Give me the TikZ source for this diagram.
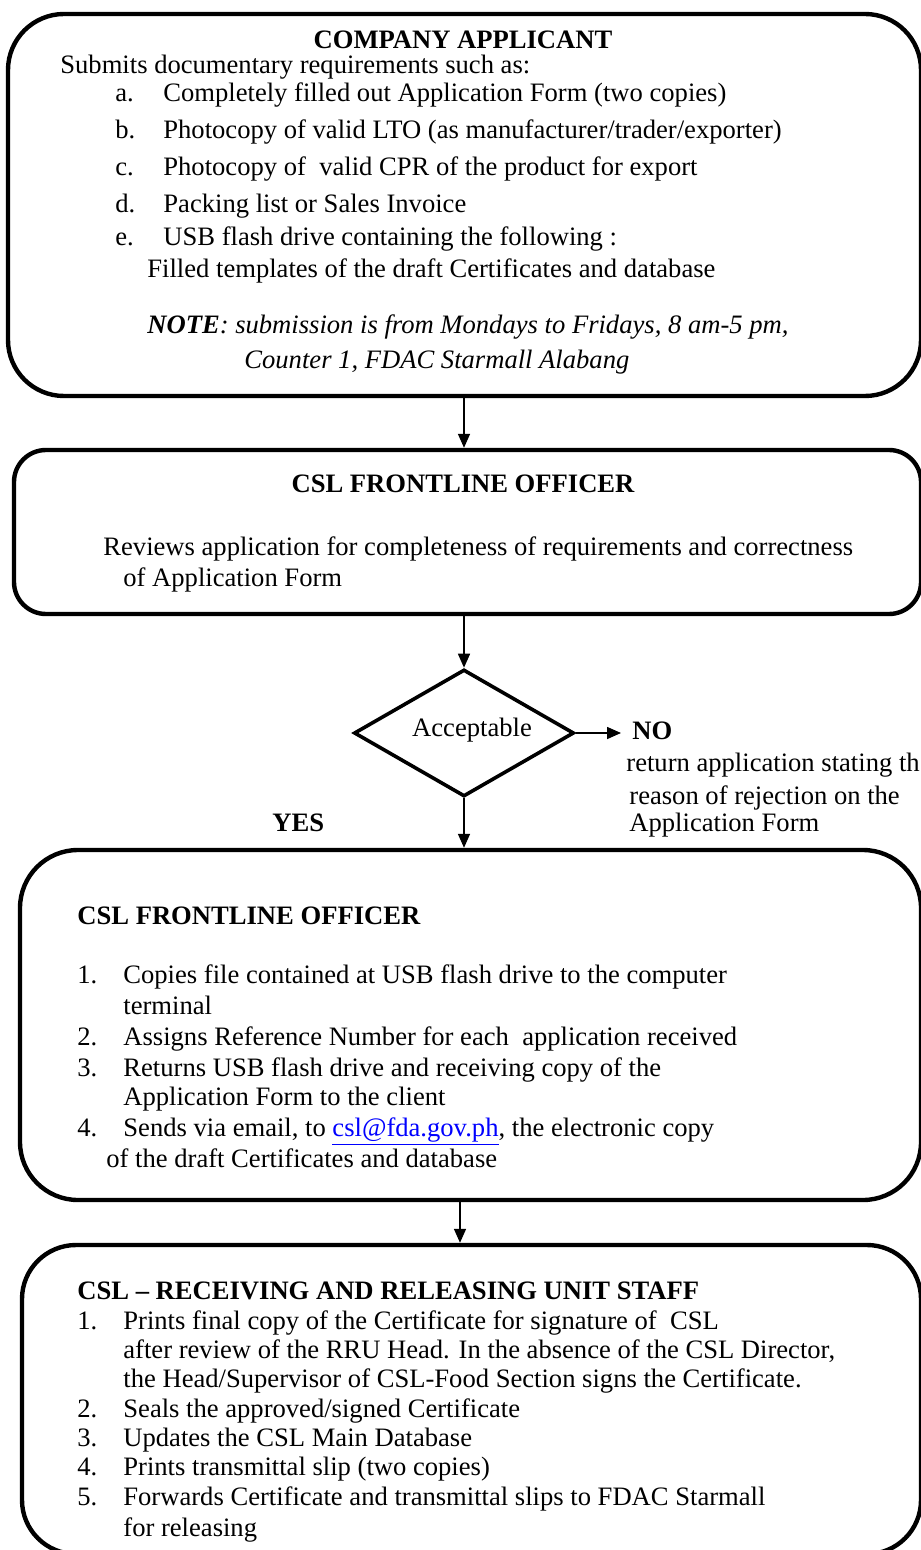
\documentclass[tikz,border=0pt]{standalone}
\usepackage{fontspec}
\setmainfont{Liberation Serif}
\usetikzlibrary{arrows.meta,shapes.geometric}
\definecolor{linkblue}{RGB}{0,0,255}
\begin{document}
\begin{tikzpicture}[x=0.5pt,y=-0.5pt,
  box/.style={draw,line width=2.2pt,rounded corners=#1,inner sep=0pt},
  txt/.style={anchor=base west,inner sep=0pt,font=\fontsize{13.3}{16}\selectfont},
  ttl/.style={anchor=base west,inner sep=0pt,font=\fontsize{13.3}{16}\selectfont\bfseries},
  ctitle/.style={anchor=base,inner sep=0pt,font=\fontsize{13.3}{16}\selectfont\bfseries},
  flow/.style={line width=0.8pt,-{Triangle[length=7pt,width=6pt]}},
  dec/.style={draw,diamond,line width=1.8pt,inner sep=0pt,minimum width=110pt,minimum height=63.5pt}
]
\useasboundingbox (0,0) rectangle (920,1550);

% ---------- boxes ----------
\node[box=28pt,minimum width=456.5pt,minimum height=191pt] (b1) at (464.5,205) {};
\node[box=16pt,minimum width=453.5pt,minimum height=82pt] (b2) at (467.5,532) {};
\node[dec] (d) at (464,733) {};
\node[box=29pt,minimum width=450.5pt,minimum height=175pt] (b3) at (470.5,1025) {};
\node[box=27pt,minimum width=449.5pt,minimum height=154.5pt] (b4) at (471.5,1399.5) {};

% ---------- box 1 text ----------
\node[ctitle] (t1) at (463,49) {COMPANY APPLICANT};
\node[txt] (s1) at (60,74) {Submits documentary requirements such as:};
\node[txt] (la) at (115,102) {a.};
\node[txt] (ia) at (163,102) {Completely filled out Application Form (two copies)};
\node[txt] (lb) at (115,139) {b.};
\node[txt] (ib) at (163,139) {Photocopy of valid LTO (as manufacturer/trader/exporter)};
\node[txt] (lc) at (115,176) {c.};
\node[txt] (ic) at (163,176) {Photocopy of\ \ valid CPR of the product for export};
\node[txt] (ld) at (115,213) {d.};
\node[txt] (id) at (163,213) {Packing list or Sales Invoice};
\node[txt] (le) at (115,246) {e.};
\node[txt] (ie) at (163,246) {USB flash drive containing the following :};
\node[txt] (ie2) at (147,278) {Filled templates of the draft Certificates and database};
\node[txt] (n1) at (147,334) {\textbf{\textit{NOTE}}\textit{: submission is from Mondays to Fridays, 8 am-5 pm,}};
\node[txt] (n2) at (244,369) {\textit{Counter 1, FDAC Starmall Alabang}};

% ---------- box 2 text ----------
\node[ctitle] (t2) at (463,493) {CSL FRONTLINE OFFICER};
\node[txt] (r1) at (103,555) {Reviews application for completeness of requirements and correctness};
\node[txt] (r2) at (123,586) {of Application Form};

% ---------- decision ----------
\node[inner sep=0pt,font=\fontsize{13.3}{16}\selectfont] (acc) at (472,730) {Acceptable};
\coordinate (noend) at (621,733);
\node[ttl] (no) at (632,739) {NO};
\node[txt] (no1) at (626,771) {return application stating th};
\node[txt] (no2) at (629,804) {reason of rejection on the};
\node[txt] (no3) at (629,831) {Application Form};
\node[ttl] (yes) at (272,831) {YES};

% ---------- box 3 text ----------
\node[ttl] (t3) at (77,924) {CSL FRONTLINE OFFICER};
\node[txt] (l31) at (77,983) {1.};
\node[txt] (i31) at (123,983) {Copies file contained at USB flash drive to the computer};
\node[txt] (i31b) at (123,1014) {terminal};
\node[txt] (l32) at (77,1045) {2.};
\node[txt] (i32) at (123,1045) {Assigns Reference Number for each\ \ application received};
\node[txt] (l33) at (77,1076) {3.};
\node[txt] (i33) at (123,1076) {Returns USB flash drive and receiving copy of the};
\node[txt] (i33b) at (123,1105) {Application Form to the client};
\node[txt] (l34) at (77,1136) {4.};
\node[txt] (i34) at (123,1136) {Sends via email, to \textcolor{linkblue}{\underline{csl@fda.gov.ph}}, the electronic copy};
\node[txt] (i34b) at (106,1167) {of the draft Certificates and database};

% ---------- box 4 text ----------
\node[ttl] (t4) at (77,1299) {CSL -- RECEIVING AND RELEASING UNIT STAFF};
\node[txt] (l41) at (77,1329) {1.};
\node[txt] (i41) at (123,1329) {Prints final copy of the Certificate for signature of\ \ CSL};
\node[txt] (i41b) at (123,1358) {after review of the RRU Head. In the absence of the CSL Director,};
\node[txt] (i41c) at (123,1387) {the Head/Supervisor of CSL-Food Section signs the Certificate.};
\node[txt] (l42) at (77,1417) {2.};
\node[txt] (i42) at (123,1417) {Seals the approved/signed Certificate};
\node[txt] (l43) at (77,1446) {3.};
\node[txt] (i43) at (123,1446) {Updates the CSL Main Database};
\node[txt] (l44) at (77,1475) {4.};
\node[txt] (i44) at (123,1475) {Prints transmittal slip (two copies)};
\node[txt] (l45) at (77,1505) {5.};
\node[txt] (i45) at (123,1505) {Forwards Certificate and transmittal slips to FDAC Starmall};
\node[txt] (i45b) at (123,1536) {for releasing};

% ---------- connectors ----------
\draw[flow] (b1.south -| d.north) -- (b2.north -| d.north);
\draw[flow] (b2.south -| d.north) -- (d.north);
\draw[flow] (d.east) -- (noend);
\draw[flow] (d.south) -- (b3.north -| d.south);
\draw[flow] (b3.south -| 460,0) -- (b4.north -| 460,0);
\end{tikzpicture}
\end{document}
